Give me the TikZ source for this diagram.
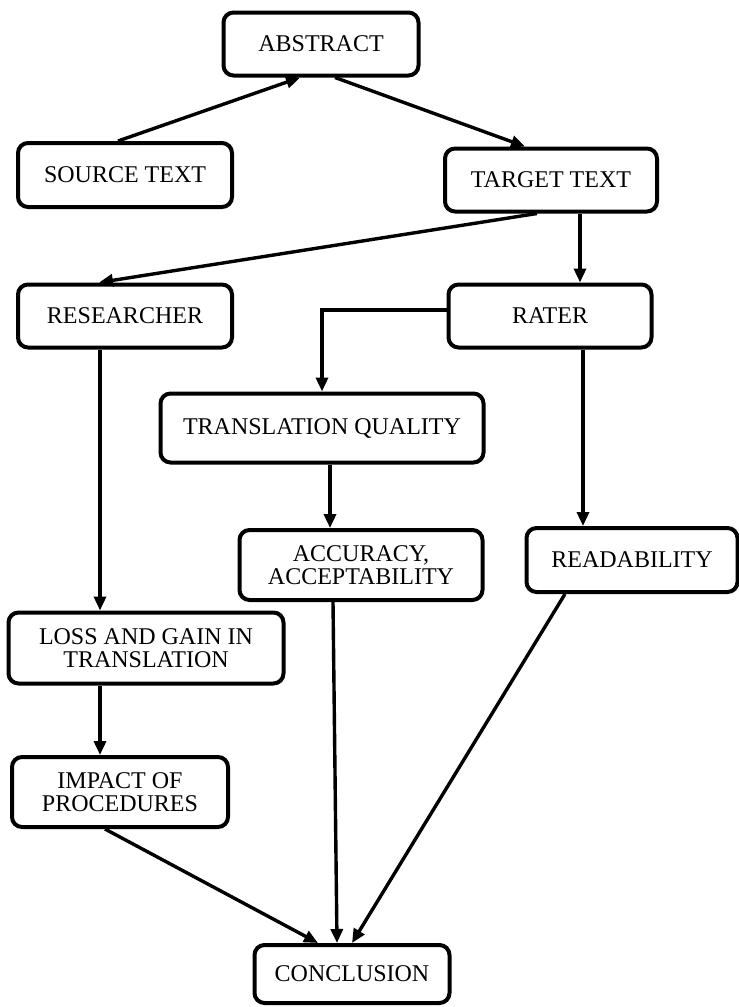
\documentclass[tikz,border=0pt]{standalone}
\usepackage{fontspec}
\setmainfont{Liberation Serif}
\usetikzlibrary{arrows.meta}

\begin{document}
\begin{tikzpicture}[->,>={Triangle[length=7pt,width=6pt]},x=0.5pt,y=-0.5pt,
    line width=1.7pt,
    box/.style={draw,line width=2pt,rounded corners=5pt,align=center,
      inner sep=0pt,font=\fontsize{12}{11.5}\selectfont}]
  \useasboundingbox (0,0) rectangle (739,1007);
  \node[box, minimum width=97.5pt, minimum height=31.5pt] (abstract) at (321,44) {ABSTRACT};
  \node[box, minimum width=107pt, minimum height=32pt] (source) at (125,175) {SOURCE TEXT};
  \node[box, minimum width=106pt, minimum height=31.5pt] (target) at (551,180) {TARGET TEXT};
  \node[box, minimum width=107pt, minimum height=31.5pt] (researcher) at (125,316) {RESEARCHER};
  \node[box, minimum width=101.5pt, minimum height=31.5pt] (rater) at (550,316) {RATER};
  \node[box, minimum width=161.5pt, minimum height=34.5pt] (quality) at (322,428) {TRANSLATION QUALITY};
  \node[box, minimum width=121.5pt, minimum height=35pt] (accuracy) at (361,565) {ACCURACY,\\ACCEPTABILITY};
  \node[box, minimum width=105.5pt, minimum height=32pt] (readability) at (632,560) {READABILITY};
  \node[box, minimum width=137.5pt, minimum height=35.5pt] (lossgain) at (146,648) {LOSS AND GAIN IN\\TRANSLATION};
  \node[box, minimum width=108pt, minimum height=35pt] (impact) at (120,792) {IMPACT OF\\PROCEDURES};
  \node[box, minimum width=97.5pt, minimum height=29pt] (conclusion) at (352,974) {CONCLUSION};
  \path ([xshift=-3.5pt]source.north) edge ([xshift=-10.5pt]abstract.south)
  ([xshift=7pt]abstract.south) edge ([xshift=-13pt]target.north)
  ([xshift=-7pt]target.south) edge ([xshift=-13pt]researcher.north)
  ([xshift=14.5pt]target.south) edge ([xshift=14.5pt]target.south |- rater.north)
  ([xshift=16.5pt]rater.south) edge ([xshift=16.5pt]rater.south |- readability.north)
  ([xshift=-12.5pt]researcher.south) edge ([xshift=-12.5pt]researcher.south |- lossgain.north)
  ([xshift=4pt]quality.south) edge ([xshift=4pt]quality.south |- accuracy.north)
  ([xshift=-23pt]lossgain.south) edge ([xshift=-23pt]lossgain.south |- impact.north)
  ([xshift=-7.5pt]impact.south) edge ([xshift=-17pt]conclusion.north)
  ([xshift=-14pt]accuracy.south) edge ([xshift=-7.5pt]conclusion.north)
  ([xshift=-33.5pt]readability.south) edge (conclusion.north)
  ;
  \draw ([yshift=3pt]rater.west) -| (quality.north);
\end{tikzpicture}
\end{document}
